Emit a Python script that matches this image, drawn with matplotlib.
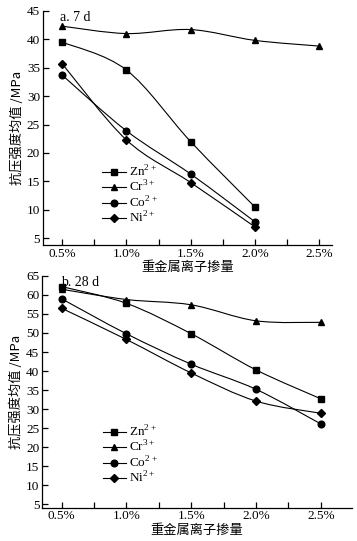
import numpy as np
import matplotlib
matplotlib.use("Agg")
import matplotlib.pyplot as plt
from matplotlib.path import Path
from matplotlib.patches import PathPatch
from matplotlib.lines import Line2D
from matplotlib.ticker import MultipleLocator

plt.rcParams['font.family'] = ['Liberation Serif', 'Noto Sans CJK SC']
plt.rcParams['mathtext.fontset'] = 'custom'
plt.rcParams['mathtext.rm'] = 'Liberation Serif'

categories = ["0.5%", "1.0%", "1.5%", "2.0%", "2.5%"]
series_names = ["Zn$^{2+}$", "Cr$^{3+}$", "Co$^{2+}$", "Ni$^{2+}$"]
markers = ["s", "^", "o", "D"]

zn_7d = [39.5, 34.6, 22.0, 10.5]
cr_7d = [42.3, 41.0, 41.7, 39.8, 38.8]
co_7d = [33.7, 23.9, 16.3, 7.9]
ni_7d = [35.7, 22.3, 14.8, 7.0]

zn_28d = [62.2, 57.8, 49.8, 40.3, 32.7]
cr_28d = [61.5, 58.8, 57.4, 53.2, 52.8]
co_28d = [59.0, 49.8, 41.8, 35.2, 26.1]
ni_28d = [56.5, 48.3, 39.5, 32.1, 28.9]

ylabel = "抗压强度均值 /MPa"
xlabel = "重金属离子掺量"


def smooth_path(xs, ys):
    pts = np.column_stack([xs, ys]).astype(float)
    n = len(pts)
    verts = [pts[0]]
    codes = [Path.MOVETO]
    for i in range(n - 1):
        p0 = pts[i - 1] if i > 0 else pts[i]
        p1 = pts[i]
        p2 = pts[i + 1]
        p3 = pts[i + 2] if i + 2 < n else pts[i + 1]
        c1 = p1 + (p2 - p0) / 6.0
        c2 = p2 - (p3 - p1) / 6.0
        verts += [c1, c2, p2]
        codes += [Path.CURVE4] * 3
    return Path(verts, codes)


fig = plt.figure(figsize=(3.57, 5.41), dpi=100)
ax1 = fig.add_axes([0.120, 0.547, 0.810, 0.433])
ax2 = fig.add_axes([0.118, 0.0616, 0.868, 0.4284])

panels = [
    (ax1, [zn_7d, cr_7d, co_7d, ni_7d], (3.8, 45), 5, (-0.30, 4.2), "a. 7 d", (0.205, 0.345)),
    (ax2, [zn_28d, cr_28d, co_28d, ni_28d], (4.1, 65), 5, (-0.30, 4.48), "b. 28 d", (0.195, 0.36)),
]

for ax, data, ylim, ystep, xlim, title, legpos in panels:
    handles = []
    for vals, mk, name in zip(data, markers, series_names):
        x = np.arange(len(vals))
        ms = 4.8 if mk != 'D' else 4.4
        ax.add_patch(PathPatch(smooth_path(x, vals), facecolor='none',
                               edgecolor='black', lw=0.8))
        ax.plot(x, vals, ls='none', marker=mk, color='black', ms=ms)
        handles.append(Line2D([], [], color='black', lw=0.8, marker=mk,
                              ms=ms, label=name))
    ax.set_xlim(*xlim)
    ax.set_ylim(*ylim)
    ax.set_xticks(range(len(categories)))
    ax.set_xticklabels(categories)
    ax.xaxis.set_minor_locator(MultipleLocator(0.5))
    ax.set_yticks(np.arange(5, ylim[1] + 0.1, ystep))
    ax.spines['top'].set_visible(False)
    ax.spines['right'].set_visible(False)
    for s in ax.spines.values():
        s.set_linewidth(0.9)
    ax.tick_params(axis='both', which='both', direction='in', labelsize=9.5,
                   width=0.9, pad=2)
    ax.tick_params(axis='both', which='major', length=4.5)
    ax.tick_params(axis='x', which='minor', length=4.5)
    ax.tick_params(axis='y', which='minor', left=False)
    ax.set_ylabel(ylabel, family=['Noto Sans CJK SC'], fontsize=9.5, labelpad=2)
    ax.set_xlabel(xlabel, family=['Noto Sans CJK SC'], fontsize=9.5, labelpad=1)
    ax.text(0.06, 1.0, title, transform=ax.transAxes, fontsize=10,
            va='top', ha='left')
    ax.legend(handles=handles, loc='upper left', bbox_to_anchor=legpos,
              frameon=False, fontsize=9.5, handlelength=1.8, handletextpad=0.2,
              labelspacing=0.0, borderpad=0, borderaxespad=0)

fig.savefig("out.png", dpi=100)
